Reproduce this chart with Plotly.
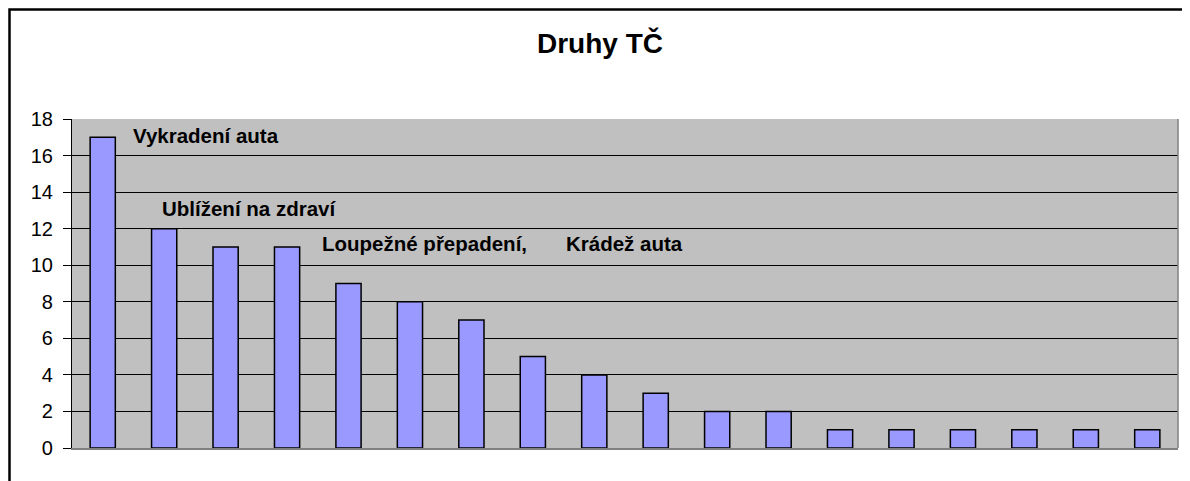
import plotly.graph_objects as go

values = [17, 12, 11, 11, 9, 8, 7, 5, 4, 3, 2, 2, 1, 1, 1, 1, 1, 1]
positions = list(range(len(values)))
labels = ["Vykradení auta", "Ublížení na zdraví", "Loupežné přepadení,", "Krádež auta"]
label_x = [0.46, 0.94, 3.54, 7.50]
label_y = [17.1, 13.1, 11.2, 11.2]
y_ticks = list(range(0, 19, 2))

W, H = 1190, 481
off = 8  # page body offset
ml, mt = 72 - off, 119 - off
pw, ph = 1178 - 72, 448 - 119
mr = W - ml - pw
mb = H - mt - ph

fig = go.Figure()
fig.add_trace(go.Bar(
    x=positions, y=values,
    marker=dict(color="#9999FF", line=dict(color="black", width=1.5)),
    width=0.41,
))

for t, x, y in zip(labels, label_x, label_y):
    fig.add_annotation(x=x, y=y, xref="x", yref="y", text="<b>" + t + "</b>",
                       showarrow=False, xanchor="left", yanchor="middle",
                       font=dict(family="Liberation Sans, Arial", size=20.5, color="black"))

# outer chart frame
fig.add_shape(type="rect", xref="paper", yref="paper",
              x0=(9.5 - 72) / pw, x1=1.05, y0=-0.3, y1=1 + (119 - 9.5) / ph,
              line=dict(color="black", width=2.5), fillcolor="rgba(0,0,0,0)", layer="above")
# plot area right edge
fig.add_shape(type="line", xref="paper", yref="paper", x0=1, x1=1, y0=0, y1=1,
              line=dict(color="#808080", width=1.5), layer="above")

fig.update_layout(
    width=W, height=H,
    margin=dict(l=ml, r=mr, t=mt, b=mb),
    paper_bgcolor="white", plot_bgcolor="#C0C0C0",
    showlegend=False,
    title=dict(text="<b>Druhy TČ</b>", x=(600 - off) / W, xanchor="center", xref="container",
               y=1 - (43 - off) / H, yref="container", yanchor="middle",
               font=dict(family="Liberation Sans, Arial", size=28, color="black")),
    xaxis=dict(range=[-0.5, 17.5], showticklabels=False, showgrid=False,
               zeroline=False, showline=True, linecolor="#808080", linewidth=1.5,
               mirror=False),
    yaxis=dict(range=[0, 18], tickvals=y_ticks, showgrid=True, gridcolor="black",
               gridwidth=1.2, zeroline=False, showline=True, linecolor="black",
               linewidth=1.2, ticks="outside", ticklen=8, tickcolor="black",
               ticklabelstandoff=6,
               tickfont=dict(family="Liberation Sans, Arial", size=20, color="black")),
    font=dict(family="Liberation Sans, Arial"),
)

fig.write_html("out.html")
